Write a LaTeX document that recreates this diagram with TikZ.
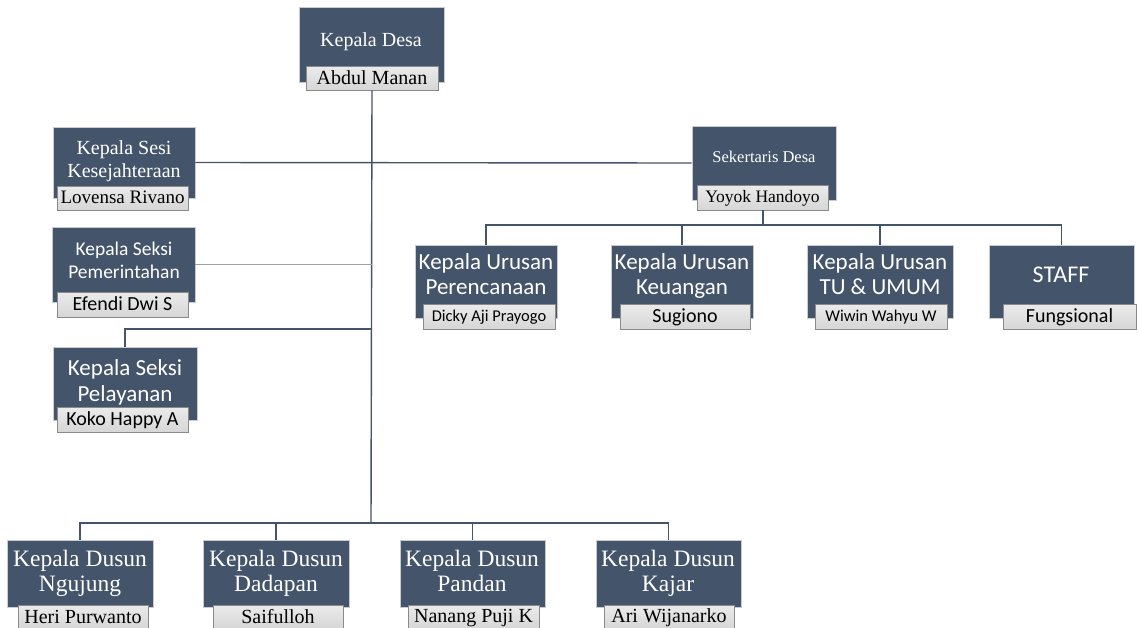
\documentclass[tikz,border=0pt]{standalone}
\usepackage{fontspec}
\setmainfont{Liberation Serif}
\newfontfamily\calfont{Carlito}
\definecolor{dk}{HTML}{44546A}
\definecolor{dkedge}{HTML}{C8CCD2}
\definecolor{nmtop}{HTML}{EBEBEB}
\definecolor{nmbot}{HTML}{D6D6D6}
\definecolor{nmdraw}{HTML}{8A8A8A}
\definecolor{ln}{HTML}{44546A}
\definecolor{lnlight}{HTML}{9AA0A8}
\newcommand{\nstrut}{\rule[-0.2em]{0pt}{1.0em}}
\newcommand{\mkbox}[6]{%
  \node[#1, minimum width={#5-#3}, minimum height={#6-#4}] (#2) at ({(#3+#5)/2},{(#4+#6)/2}) {};}
\newcommand{\mkname}[7]{%
  \node[namebox, minimum width={#4-#2}, minimum height={#5-#3}, font=#6] (#1) at ({(#2+#4)/2},{(#3+#5)/2}) {\nstrut #7};}
\begin{document}
\begin{tikzpicture}[x=1pt,y=-1pt,
  darkbox/.style={draw=dkedge, line width=0.9pt, fill=dk, inner sep=0pt},
  namebox/.style={draw=nmdraw, line width=0.9pt, top color=nmtop, bottom color=nmbot, inner sep=0pt, text=black},
  ttl/.style={text=white, align=center, inner sep=0pt},
  conn/.style={draw=ln, line width=1.4pt},
  connlight/.style={draw=lnlight, line width=1.4pt},
  serT/.style={font=\fontsize{20}{23}\selectfont},
  sanT/.style={font=\calfont\fontsize{23}{26}\selectfont}
]
\useasboundingbox[fill=white] (0,0) rectangle (1139,627);

% Kepala Desa
\mkbox{darkbox}{desa}{299}{7}{444}{82}
\node[ttl, serT] (desaT) at (371,42) {\strut Kepala Desa};
\mkname{desaN}{306}{66}{438}{90}{\fontsize{20}{22}\selectfont}{Abdul Manan}

% Kepala Sesi Kesejahteraan
\mkbox{darkbox}{kesej}{53}{127}{195}{198}
\node[ttl, serT] (kesejT) at (124,161) {\strut Kepala Sesi\\Kesejahteraan\strut};
\mkname{kesejN}{57}{186}{188}{210}{\fontsize{19}{21}\selectfont}{Lovensa Rivano}

% Kepala Seksi Pemerintahan
\mkbox{darkbox}{pem}{52}{227}{195}{302}
\node[ttl, font=\calfont\fontsize{19.5}{23}\selectfont] (pemT) at (124,262) {\strut Kepala Seksi\\Pemerintahan\strut};
\mkname{pemN}{57}{292}{188}{317}{\calfont\fontsize{20}{22}\selectfont}{Efendi Dwi S}

% Kepala Seksi Pelayanan
\mkbox{darkbox}{pel}{53}{347}{197}{420}
\node[ttl, sanT] (pelT) at (125,383) {\strut Kepala Seksi\\Pelayanan\strut};
\mkname{pelN}{57}{407}{188}{432}{\calfont\fontsize{20}{22}\selectfont}{Koko Happy A}

% Sekertaris Desa
\mkbox{darkbox}{sek}{692}{126}{836}{200}
\node[ttl, font=\fontsize{16.5}{19}\selectfont] (sekT) at (764,159) {\strut Sekertaris Desa};
\mkname{sekN}{697}{185}{828}{210}{\fontsize{17.5}{20}\selectfont}{Yoyok Handoyo}

% Urusan
\mkbox{darkbox}{ren}{415}{245}{557}{318}
\node[ttl, font=\calfont\fontsize{23}{25}\selectfont] (renT) at (486,277) {\strut Kepala Urusan\\Perencanaan\strut};
\mkname{renN}{423}{304}{555}{329}{\calfont\fontsize{16.5}{19}\selectfont}{Dicky Aji Prayogo}

\mkbox{darkbox}{keu}{611}{245}{753}{318}
\node[ttl, font=\calfont\fontsize{23}{25}\selectfont] (keuT) at (682,277) {\strut Kepala Urusan\\Keuangan\strut};
\mkname{keuN}{620}{304}{750}{329}{\calfont\fontsize{20}{22}\selectfont}{Sugiono}

\mkbox{darkbox}{tu}{807}{245}{953}{318}
\node[ttl, font=\calfont\fontsize{23}{25}\selectfont] (tuT) at (880,277) {\strut Kepala Urusan\\TU \& UMUM\strut};
\mkname{tuN}{815}{304}{947}{329}{\calfont\fontsize{16.5}{19}\selectfont}{Wiwin Wahyu W}

\mkbox{darkbox}{staff}{989}{245}{1134}{318}
\node[ttl, font=\calfont\fontsize{24}{26}\selectfont] (staffT) at (1061,277) {\strut STAFF};
\mkname{staffN}{1003}{304}{1136}{329}{\calfont\fontsize{20}{22}\selectfont}{Fungsional}

% Dusun
\mkbox{darkbox}{ngu}{7}{540}{153}{607}
\node[ttl, font=\fontsize{23.5}{25}\selectfont] (nguT) at (80,574) {\strut Kepala Dusun\\Ngujung\strut};
\mkname{nguN}{18}{605}{148}{629}{\fontsize{20}{22}\selectfont}{Heri Purwanto}

\mkbox{darkbox}{dad}{203}{540}{349}{607}
\node[ttl, font=\fontsize{23.5}{25}\selectfont] (dadT) at (276,574) {\strut Kepala Dusun\\Dadapan\strut};
\mkname{dadN}{213}{605}{343}{629}{\fontsize{20}{22}\selectfont}{Saifulloh}

\mkbox{darkbox}{pan}{400}{540}{545}{607}
\node[ttl, font=\fontsize{23.5}{25}\selectfont] (panT) at (472,574) {\strut Kepala Dusun\\Pandan\strut};
\mkname{panN}{408}{605}{539}{629}{\fontsize{20}{22}\selectfont}{Nanang Puji K}

\mkbox{darkbox}{kaj}{596}{540}{741}{607}
\node[ttl, font=\fontsize{23.5}{25}\selectfont] (kajT) at (668,574) {\strut Kepala Dusun\\Kajar\strut};
\mkname{kajN}{604}{605}{734}{629}{\fontsize{20}{22}\selectfont}{Ari Wijanarko}

% connectors
\coordinate (bar) at (371,523);
\coordinate (pelJ) at (371,329);
\coordinate (sekBar) at (763,225);
\draw[conn] (desaN.south) -- (bar);
\draw[conn] (kesej.east) -- (sek.west);
\draw[connlight] (pem.east) -- (pem.east -| desaN.south);
\draw[conn] (pel.north) |- (pelJ);
\draw[conn] (sekN.south -| sekBar) -- (sekBar);
\draw[conn] (ren.north) |- (sekBar);
\draw[conn] (staff.north) |- (sekBar);
\draw[conn] (keu.north) -- (keu.north |- sekBar);
\draw[conn] (tu.north) -- (tu.north |- sekBar);
\draw[conn] (ngu.north) |- (bar);
\draw[conn] (kaj.north) |- (bar);
\draw[conn] (dad.north) -- (dad.north |- bar);
\draw[conn] (pan.north) -- (pan.north |- bar);
\end{tikzpicture}
\end{document}
